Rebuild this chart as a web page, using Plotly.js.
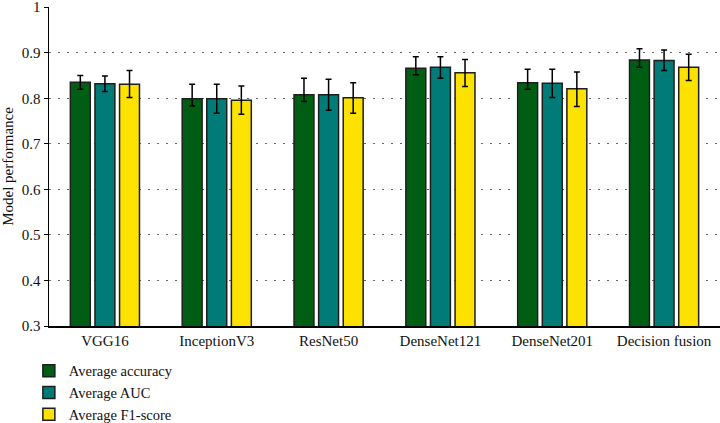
<!DOCTYPE html>
<html>
<head>
<meta charset="utf-8">
<script src="https://cdn.plot.ly/plotly-3.0.1.min.js"></script>
<style>html,body{margin:0;padding:0;background:#fff}#chart{width:720px;height:423px}</style>
</head>
<body>
<div id="chart"></div>
<script>
const categories = ["VGG16", "InceptionV3", "ResNet50", "DenseNet121", "DenseNet201", "Decision fusion"];
const seriesNames = ["Average accuracy", "Average AUC", "Average F1-score"];

const accuracy = [0.835, 0.799, 0.808, 0.866, 0.834, 0.884];
const accuracyUpper = [0.850, 0.831, 0.844, 0.891, 0.864, 0.909];
const accuracyLower = [0.820, 0.783, 0.793, 0.852, 0.820, 0.868];

const auc = [0.832, 0.799, 0.808, 0.868, 0.833, 0.883];
const aucUpper = [0.849, 0.831, 0.842, 0.891, 0.864, 0.906];
const aucLower = [0.815, 0.767, 0.774, 0.844, 0.802, 0.861];

const f1 = [0.831, 0.796, 0.801, 0.856, 0.821, 0.868];
const f1Upper = [0.861, 0.827, 0.834, 0.885, 0.858, 0.897];
const f1Lower = [0.802, 0.765, 0.767, 0.826, 0.782, 0.839];

const colors = ["#005e14", "#007b78", "#fde200"];

function mk(name, vals, up, lo, color) {
  return {
    type: "bar", name: name, x: categories, y: vals,
    marker: {color: color, line: {color: "#1e1e1e", width: 1.5}},
    error_y: {type: "data", symmetric: false,
      array: vals.map((v, i) => up[i] - v),
      arrayminus: vals.map((v, i) => v - lo[i]),
      color: "#000", thickness: 1.5, width: 3}
  };
}

const data = [
  mk(seriesNames[0], accuracy, accuracyUpper, accuracyLower, colors[0]),
  mk(seriesNames[1], auc, aucUpper, aucLower, colors[1]),
  mk(seriesNames[2], f1, f1Upper, f1Lower, colors[2])
];

const font = {family: "Liberation Serif, Times New Roman, serif", size: 15, color: "#111"};
const legendFont = {family: "Liberation Serif, Times New Roman, serif", size: 14.5, color: "#111"};

const layout = {
  width: 720, height: 423,
  margin: {l: 49, r: 0, t: 7, b: 97, autoexpand: false},
  paper_bgcolor: "#fff", plot_bgcolor: "#fff",
  font: font,
  barmode: "group", bargap: 0.34, bargroupgap: 0.19,
  showlegend: true,
  legend: {x: -0.03, xanchor: "left", y: -0.09, yanchor: "top", orientation: "v",
    font: legendFont, bgcolor: "rgba(0,0,0,0)", traceorder: "normal", tracegroupgap: 0},
  xaxis: {range: [-0.5, 5.5], showline: true, linecolor: "#000", linewidth: 1.5,
    ticks: "", showgrid: false, zeroline: false, tickfont: font, automargin: false},
  yaxis: {range: [0.3, 1.0005], tickvals: [0.3,0.4,0.5,0.6,0.7,0.8,0.9,1.0],
    ticktext: ["0.3","0.4","0.5","0.6","0.7","0.8","0.9","1"],
    ticklabeloverflow: "allow",
    showline: true, linecolor: "#000", linewidth: 1.5, ticks: "outside", ticklen: 4,
    tickcolor: "#000", showgrid: true, gridcolor: "#666", griddash: "2px,7px", gridwidth: 1,
    zeroline: false, tickfont: font, automargin: false,
    title: {text: "Model performance", font: font, standoff: 8}}
};

Plotly.newPlot("chart", data, layout, {displayModeBar: false, staticPlot: true});
</script>
</body>
</html>
